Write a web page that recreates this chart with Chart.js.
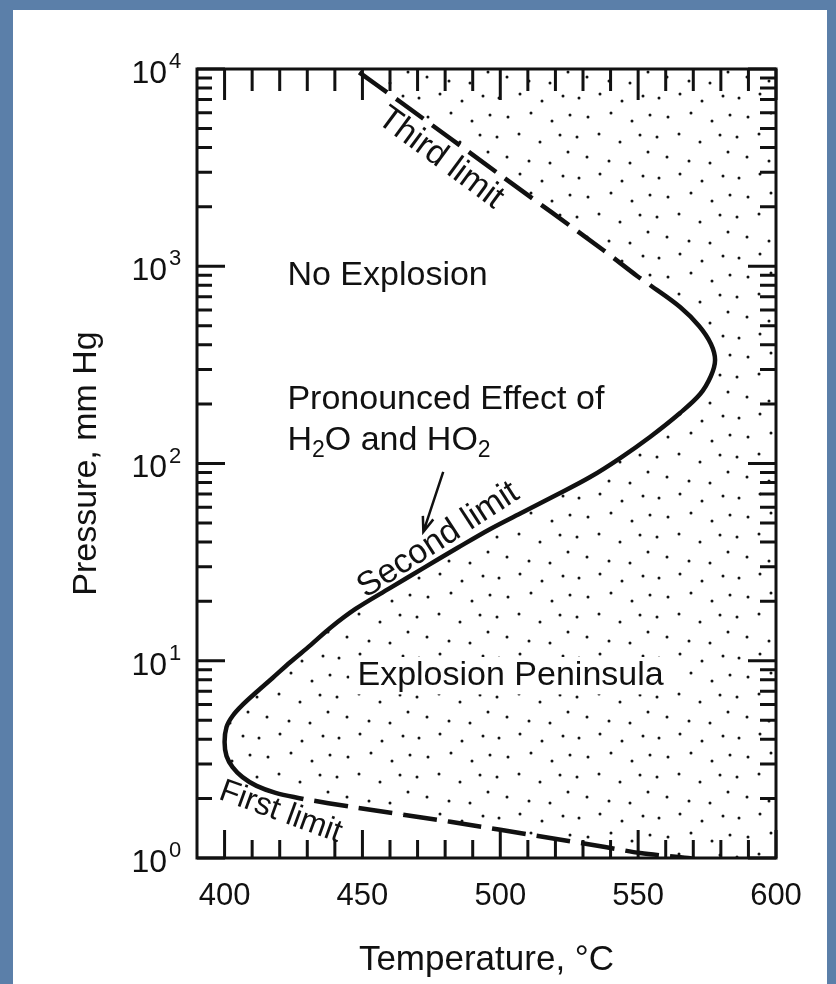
<!DOCTYPE html>
<html>
<head>
<meta charset="utf-8">
<script src="https://cdn.jsdelivr.net/npm/chart.js@4.4.1/dist/chart.umd.min.js"></script>
<style>
  html, body { margin: 0; padding: 0; }
  body { width: 836px; height: 984px; overflow: hidden; background: #5b7fa9; }
  #box { position: absolute; left: 13px; top: 10px; width: 814px; height: 974px; background: #fff; }
</style>
</head>
<body>
<div id="box"><canvas id="mycanvas"></canvas></div>
<script>
// values: temperature (C) and pressure (mm Hg)
var secondTemp = [428.6, 418.5, 411.6, 406.5, 402.9, 400.7, 400, 400.7, 402.9, 406.5, 411.6, 417.4, 423.9,
  431.2, 438.4, 447.5, 460.1, 472.1, 484.4, 496.4, 508.3, 520.3, 532.6, 543.5, 554.3, 565.2, 572.5,
  576.4, 577.9, 576.4, 572.1, 565.2, 554.3];
var secondPress = [1.99, 2.14, 2.32, 2.57, 2.89, 3.29, 3.87, 4.61, 5.25, 5.97, 6.94, 8.18, 9.86,
  12.0, 14.7, 18.3, 23.4, 29.5, 37.3, 46.6, 56.8, 69.2, 85.4, 106.6, 136.3, 180.3, 225,
  277.7, 334.7, 403.6, 497.8, 621.4, 803.5];

var firstTemp = [428.6, 446.7, 481.9, 518.1, 538, 550.7, 568.1, 571];
var firstPress = [1.99, 1.81, 1.526, 1.263, 1.137, 1.06, 1.0, 0.985];

var thirdTemp = [554.3, 549.6, 537.3, 500, 463.8, 447.1];
var thirdPress = [803.5, 893, 1209, 2901, 6800, 10000];

var xTicks = [400, 450, 500, 550, 600];
var xMinorTicks = [400, 410, 420, 430, 440, 450, 460, 470, 480, 490, 500, 510, 520, 530, 540, 550, 560, 570, 580, 590, 600];
var yTicks = [1, 10, 100, 1000, 10000];
var yExponents = ['0', '1', '2', '3', '4'];
var yMinorSteps = [2, 3, 4, 5, 6, 7, 8, 9];

var FONT = "'Liberation Sans', Arial, Helvetica, sans-serif";
var INK = '#111';

function toPts(xs, ys) {
  return xs.map(function (x, i) { return { x: x, y: ys[i] }; });
}

// outline of the explosion region, built from the limit curves
var regionPts = [{ x: 600, y: 1 }];
for (var i = firstTemp.length - 1; i >= 0; i--) regionPts.push({ x: firstTemp[i], y: firstPress[i] });
for (i = 1; i < secondTemp.length; i++) regionPts.push({ x: secondTemp[i], y: secondPress[i] });
for (i = 1; i < thirdTemp.length; i++) regionPts.push({ x: thirdTemp[i], y: thirdPress[i] });
regionPts.push({ x: 600, y: 10000 });

var ctx = document.getElementById('mycanvas');

function stipple() {
  var c = document.createElement('canvas');
  c.width = 80; c.height = 80;
  var g = c.getContext('2d');
  g.fillStyle = INK;
  var dots = [[6, 8], [27, 4], [49, 11], [70, 6],
    [15, 27], [38, 23], [59, 31], [77, 25],
    [4, 47], [26, 44], [47, 52], [67, 45],
    [14, 67], [36, 71], [57, 73], [75, 62]];
  dots.forEach(function (d) {
    g.beginPath(); g.arc(d[0], d[1], 1.5, 0, Math.PI * 2); g.fill();
  });
  return ctx.getContext('2d').createPattern(c, 'repeat');
}

var labels = [
  { text: 'No Explosion', x: 422.8, y: 892, align: 'left', rot: 0, size: 34 },
  { text: 'Pronounced Effect of', x: 422.8, y: 212, align: 'left', rot: 0, size: 34 },
  { text: 'Explosion Peninsula', x: 448.2, y: 8.4, align: 'left', rot: 0, size: 34, clear: true },
  { text: 'Third limit', x: 478.3, y: 3540, align: 'center', rot: 36.5, size: 34 },
  { text: 'Second limit', x: 477.5, y: 40.9, align: 'center', rot: -33, size: 34 },
  { text: 'First limit', x: 420.3, y: 1.71, align: 'center', rot: 20, size: 32 }
];

var decorations = {
  id: 'decorations',
  afterDatasetsDraw: function (chart) {
    var c = chart.ctx, xs = chart.scales.x, ys = chart.scales.y, a = chart.chartArea;
    c.save();
    c.strokeStyle = INK; c.fillStyle = INK;
    c.lineWidth = 3;
    c.strokeRect(a.left, a.top, a.right - a.left, a.bottom - a.top);

    // ticks pointing inwards on all four sides
    c.beginPath();
    xMinorTicks.forEach(function (v) {
      var px = xs.getPixelForValue(v);
      var major = xTicks.indexOf(v) >= 0;
      c.moveTo(px, a.bottom); c.lineTo(px, a.bottom - (major ? 28 : 18));
      c.moveTo(px, a.top); c.lineTo(px, a.top + (major ? 31 : 22));
    });
    yTicks.forEach(function (v, k) {
      var py = ys.getPixelForValue(v);
      c.moveTo(a.left, py); c.lineTo(a.left + 28, py);
      c.moveTo(a.right, py); c.lineTo(a.right - 28, py);
      if (k < yTicks.length - 1) {
        yMinorSteps.forEach(function (m) {
          var q = ys.getPixelForValue(v * m);
          c.moveTo(a.left, q); c.lineTo(a.left + 15, q);
          c.moveTo(a.right, q); c.lineTo(a.right - 16, q);
        });
      }
    });
    c.stroke();

    // y labels 10^n
    c.textBaseline = 'middle';
    yTicks.forEach(function (v, k) {
      var py = ys.getPixelForValue(v) + 5;
      c.font = '32px ' + FONT;
      c.textAlign = 'right';
      c.fillText('10', 154, py);
      c.font = '22px ' + FONT;
      c.textAlign = 'left';
      c.fillText(yExponents[k], 156, py - 12);
    });

    // region labels
    labels.forEach(function (l) {
      c.save();
      c.translate(xs.getPixelForValue(l.x), ys.getPixelForValue(l.y));
      c.rotate(l.rot * Math.PI / 180);
      c.font = l.size + 'px ' + FONT;
      c.textAlign = l.align;
      c.textBaseline = 'middle';
      if (l.clear) {
        var w = c.measureText(l.text).width;
        c.fillStyle = '#fff';
        c.fillRect(-8, -l.size * 0.55, w + 16, l.size * 1.1);
        c.fillStyle = INK;
      }
      c.fillText(l.text, 0, 0);
      c.restore();
    });

    // H2O and HO2 with subscripts
    var hx = xs.getPixelForValue(422.8), hy = ys.getPixelForValue(131);
    var parts = [['H', 0], ['2', 1], ['O and HO', 0], ['2', 1]];
    c.textAlign = 'left';
    parts.forEach(function (p) {
      c.font = (p[1] ? 23 : 34) + 'px ' + FONT;
      c.fillText(p[0], hx, hy + (p[1] ? 10 : 0));
      hx += c.measureText(p[0]).width;
    });

    // arrow pointing at the second limit
    var x0 = xs.getPixelForValue(479.3), y0 = ys.getPixelForValue(90.6);
    var x1 = xs.getPixelForValue(472.1), y1 = ys.getPixelForValue(45.0);
    var ang = Math.atan2(y1 - y0, x1 - x0);
    c.lineWidth = 2.5;
    c.beginPath();
    c.moveTo(x0, y0); c.lineTo(x1, y1);
    c.moveTo(x1 - 16 * Math.cos(ang - 0.35), y1 - 16 * Math.sin(ang - 0.35));
    c.lineTo(x1, y1);
    c.lineTo(x1 - 16 * Math.cos(ang + 0.35), y1 - 16 * Math.sin(ang + 0.35));
    c.stroke();
    c.restore();
  }
};

var chartdata = {
  datasets: [
    {
      label: 'Explosion region',
      data: regionPts,
      showLine: true,
      fill: 'shape',
      backgroundColor: stipple(),
      borderWidth: 0,
      pointRadius: 0,
      tension: 0
    },
    {
      label: 'Second limit',
      data: toPts(secondTemp, secondPress),
      showLine: true,
      borderColor: INK,
      borderWidth: 4.5,
      pointRadius: 0,
      tension: 0.35
    },
    {
      label: 'First limit',
      data: toPts(firstTemp, firstPress),
      showLine: true,
      borderColor: INK,
      borderWidth: 4.5,
      borderDash: [34, 11],
      borderDashOffset: 34,
      pointRadius: 0,
      tension: 0.3
    },
    {
      label: 'Third limit',
      data: toPts(thirdTemp, thirdPress),
      showLine: true,
      borderColor: INK,
      borderWidth: 4.5,
      borderDash: [34, 11],
      borderDashOffset: 34,
      pointRadius: 0,
      tension: 0.3
    }
  ]
};

var chart = new Chart(ctx, {
  type: 'scatter',
  data: chartdata,
  options: {
    responsive: true,
    maintainAspectRatio: false,
    animation: false,
    layout: { padding: { left: 0, right: 51, top: 59, bottom: 0 } },
    plugins: { legend: { display: false }, tooltip: { enabled: false } },
    scales: {
      x: {
        type: 'linear',
        min: 390,
        max: 600,
        grid: { display: false, drawTicks: false },
        border: { display: false },
        afterBuildTicks: function (s) { s.ticks = xTicks.map(function (v) { return { value: v }; }); },
        afterFit: function (s) { s.height = 126; },
        ticks: { color: INK, padding: 20, font: { family: FONT, size: 31 } },
        title: {
          display: true,
          text: 'Temperature, \u00B0C',
          color: INK,
          padding: { top: 0, bottom: 3 },
          font: { family: FONT, size: 35 }
        }
      },
      y: {
        type: 'logarithmic',
        min: 1,
        max: 10000,
        grid: { display: false, drawTicks: false },
        border: { display: false },
        afterBuildTicks: function (s) { s.ticks = yTicks.map(function (v) { return { value: v }; }); },
        afterFit: function (s) { s.width = 184; },
        ticks: { display: false },
        title: {
          display: true,
          text: 'Pressure, mm Hg',
          color: INK,
          padding: { top: 53, bottom: 0 },
          font: { family: FONT, size: 34 }
        }
      }
    }
  },
  plugins: [decorations]
});
</script>
</body>
</html>
